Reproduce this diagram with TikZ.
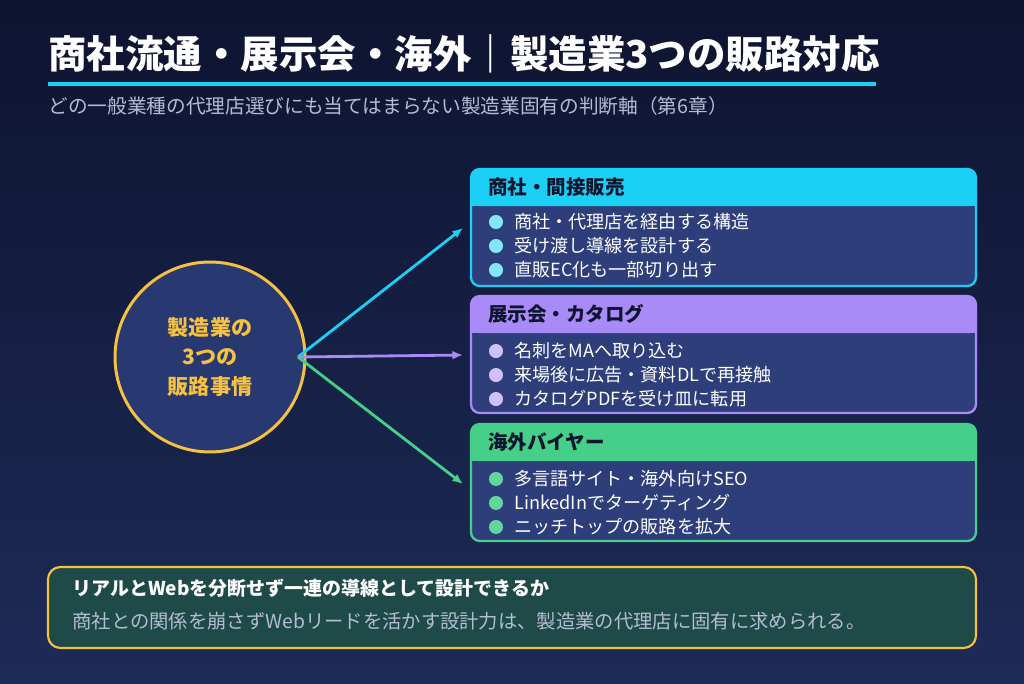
\documentclass[tikz,border=0pt]{standalone}
\usepackage{fontspec}
\setmainfont{Noto Sans CJK JP}
\usetikzlibrary{arrows.meta}
\definecolor{bgtop}{HTML}{0E1430}
\definecolor{bgbot}{HTML}{1D2B57}
\definecolor{cyanc}{HTML}{1CCFF5}
\definecolor{purc}{HTML}{A98BF8}
\definecolor{grnc}{HTML}{46CF89}
\definecolor{bodyc}{HTML}{2D3E7B}
\definecolor{goldc}{HTML}{F5C142}
\definecolor{tealc}{HTML}{1E4A47}
\definecolor{subc}{HTML}{B4BCD4}
\tikzset{
  head/.style={anchor=west, font=\bfseries\fontsize{11.1}{13}\selectfont, text=bgtop},
  item/.style={anchor=west, font=\fontsize{10.3}{12}\selectfont, text=white},
  dot/.style={circle, inner sep=0pt, minimum size=8pt},
  arr/.style={line width=1.6pt, -{Latex[length=6pt,width=5pt]}}
}
\begin{document}
\begin{tikzpicture}[x=0.02cm, y=-0.02cm]
  % Background
  \shade[top color=bgtop, bottom color=bgbot] (0,0) rectangle (1024,683);
  \useasboundingbox (0,0) rectangle (1024,683);

  % Title
  \node[anchor=base west, inner sep=0pt, text=white, font=\bfseries\fontsize{21.9}{24}\selectfont]
    (title) at (48,68) {商社流通・展示会・海外｜製造業3つの販路対応};
  \draw[cyanc, line width=2.3pt] (48,84) -- (876,84);
  \node[anchor=base west, inner sep=0pt, text=subc, font=\fontsize{11.2}{13}\selectfont]
    (sub) at (48,113) {どの一般業種の代理店選びにも当てはまらない製造業固有の判断軸（第6章）};

  % Circle
  \node[circle, draw=goldc, line width=1.7pt, fill=bodyc!85!bgtop, minimum size=3.8cm,
    align=center, text=goldc, font=\bfseries\fontsize{12}{17}\selectfont]
    (hub) at (210,357) {製造業の\\3つの\\販路事情};
  \coordinate (src) at (298,357);

  % Boxes
  \foreach \y/\c/\n in {169/cyanc/a, 296/purc/b, 424/grnc/c}{
    \draw[\c, fill=bodyc, line width=1.3pt, rounded corners=5pt] (471,\y) rectangle (976,\y+117);
    \fill[\c, rounded corners=4pt] (471,\y) rectangle (976,\y+37);
    \fill[\c] (471,\y+20) rectangle (976,\y+37);
    \coordinate (\n) at (463,\y+59);
  }
  \coordinate (a) at (463,228);
  \coordinate (c) at (463,484);

  \node[head] (ha) at (482,187) {商社・間接販売};
  \node[head] (hb) at (482,314) {展示会・カタログ};
  \node[head] (hc) at (482,442) {海外バイヤー};

  \foreach \y/\t in {222/商社・代理店を経由する構造, 246/受け渡し導線を設計する, 270/直販EC化も一部切り出す}{
    \node[dot, fill=cyanc!55!white] at (496,\y) {};
    \node[item] at (508,\y) {\t};
  }
  \foreach \y/\t in {351/名刺をMAへ取り込む, 375/来場後に広告・資料DLで再接触, 399/カタログPDFを受け皿に転用}{
    \node[dot, fill=purc!55!white] at (496,\y) {};
    \node[item] at (508,\y) {\t};
  }
  \foreach \y/\t in {479/多言語サイト・海外向けSEO, 503/LinkedInでターゲティング, 527/ニッチトップの販路を拡大}{
    \node[dot, fill=grnc!85!white] at (496,\y) {};
    \node[item] at (508,\y) {\t};
  }

  % Edges
  \draw[arr, cyanc] (src) -- (a);
  \draw[arr, purc] (src) -- (b);
  \draw[arr, grnc] (src) -- (c);

  % Footer
  \draw[goldc, fill=tealc, line width=1.2pt, rounded corners=7pt] (48,567) rectangle (976,648);
  \node[anchor=base west, inner sep=0pt, text=white, font=\bfseries\fontsize{10.8}{13}\selectfont]
    (fa) at (72,595) {リアルとWebを分断せず一連の導線として設計できるか};
  \node[anchor=base west, inner sep=0pt, text=subc, font=\fontsize{11}{13}\selectfont]
    (fb) at (72,628) {商社との関係を崩さずWebリードを活かす設計力は、製造業の代理店に固有に求められる。};
\end{tikzpicture}
\end{document}
